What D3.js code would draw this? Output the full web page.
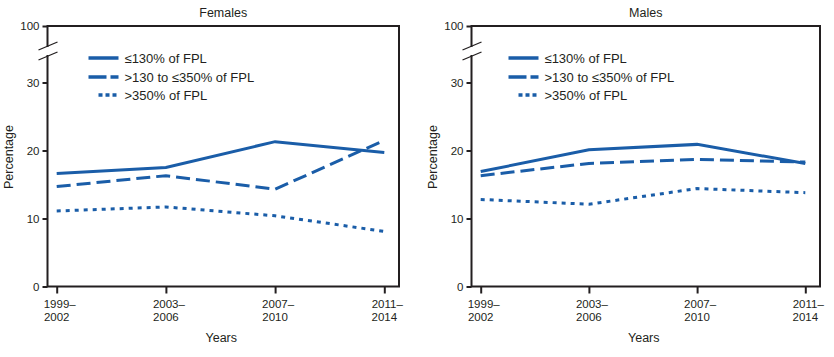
<!DOCTYPE html>
<html><head><meta charset="utf-8">
<script src="https://cdn.jsdelivr.net/npm/d3@7"></script>
<style>
body{margin:0;background:#fff;}
text{font-family:"Liberation Sans Narrow","Arial Narrow","Liberation Sans",Arial,sans-serif;fill:#231f20;}
</style></head>
<body><svg id="c" width="834" height="357"></svg>
<script>
const periods = ["1999–2002","2003–2006","2007–2010","2011–2014"];
const yTicks = [0,10,20,30,100];
const seriesNames = ["≤130% of FPL", ">130 to ≤350% of FPL", ">350% of FPL"];
const femalesLow = [16.6, 17.5, 21.3, 19.7];
const femalesMid = [14.7, 16.3, 14.3, 21.5];
const femalesHigh = [11.1, 11.7, 10.4, 8.1];
const malesLow = [16.9, 20.1, 20.9, 18.1];
const malesMid = [16.3, 18.1, 18.7, 18.3];
const malesHigh = [12.8, 12.1, 14.4, 13.8];
const panels = [
  {title:"Females", series:[femalesLow, femalesMid, femalesHigh]},
  {title:"Males", series:[malesLow, malesMid, malesHigh]}
];
const dashes = [null, "14,6", "4,5"];
const legendDashes = [null, "18,4", "4,3"];
const blue = "#1a5da8";

const svg = d3.select("#c");
const plotTop = 26, plotBottom = 286.5;
const y = d3.scaleLinear().domain([0,30,100]).range([plotBottom, 82.5, plotTop]);
const frames = [{l:47.5, r:399, lg:41}, {l:471.5, r:820, lg:37}];

panels.forEach((p, i) => {
  const f = frames[i];
  const g = svg.append("g");
  const x = d3.scalePoint().domain(periods).range([f.l + 9.2, f.r - 14.7]);
  g.append("text").attr("x", (f.l + f.r)/2).attr("y", 17).attr("text-anchor","middle")
    .style("font-size","12.5px").text(p.title);
  g.append("rect").attr("x", f.l).attr("y", plotTop).attr("width", f.r - f.l).attr("height", plotBottom - plotTop)
    .attr("fill","none").attr("stroke","#231f20").attr("stroke-width",2);
  const ya = d3.axisLeft(y).tickValues(yTicks).tickSize(5).tickPadding(3).tickFormat(d3.format("d"));
  const yg = g.append("g").attr("transform",`translate(${f.l},0)`).call(ya);
  yg.select(".domain").remove();
  yg.selectAll(".tick line").attr("stroke","#231f20").attr("stroke-width",2);
  yg.selectAll(".tick text").style("font-size","11.5px").attr("fill","#231f20");
  g.append("rect").attr("x", f.l - 2).attr("y", 47).attr("width", 4).attr("height", 8).attr("fill","#fff");
  g.append("line").attr("x1", f.l - 9).attr("y1", 50).attr("x2", f.l + 10).attr("y2", 42)
    .attr("stroke","#231f20").attr("stroke-width",1.3);
  g.append("line").attr("x1", f.l - 9).attr("y1", 60).attr("x2", f.l + 10).attr("y2", 52)
    .attr("stroke","#231f20").attr("stroke-width",1.3);
  const xa = d3.axisBottom(x).tickSize(7).tickFormat("");
  const xg = g.append("g").attr("transform",`translate(0,${plotBottom})`).call(xa);
  xg.select(".domain").remove();
  xg.selectAll(".tick line").attr("stroke","#231f20").attr("stroke-width",2);
  periods.forEach(pr => {
    const parts = pr.split("–");
    const t = g.append("text").attr("x", x(pr)).attr("y", 308).attr("text-anchor","middle").style("font-size","11.5px");
    t.append("tspan").attr("x", x(pr)).attr("dx", 3).text(parts[0] + "–");
    t.append("tspan").attr("x", x(pr)).attr("dy", 13).text(parts[1]);
  });
  g.append("text").attr("x", (f.l + f.r)/2 - 2).attr("y", 342).attr("text-anchor","middle")
    .style("font-size","12.5px").text("Years");
  g.append("text").attr("transform", `translate(${f.l - 35},157) rotate(-90)`).attr("text-anchor","middle")
    .style("font-size","12.5px").text("Percentage");
  const line = d3.line().x((d, j) => x(periods[j])).y(d => y(d));
  p.series.forEach((s, k) => {
    g.append("path").datum(s).attr("d", line).attr("fill","none").attr("stroke", blue)
      .attr("stroke-width", 3).attr("stroke-dasharray", dashes[k]);
  });
  const ly = [58, 77, 95];
  seriesNames.forEach((n, k) => {
    const x1 = k === 2 ? f.l + f.lg + 10 : f.l + f.lg;
    g.append("line").attr("x1", x1).attr("x2", f.l + f.lg + 30).attr("y1", ly[k]).attr("y2", ly[k])
      .attr("stroke", blue).attr("stroke-width", 3.5).attr("stroke-dasharray", legendDashes[k]);
    g.append("text").attr("x", f.l + f.lg + 36).attr("y", ly[k] + 4.5).style("font-size","13px").text(n);
  });
});
</script></body></html>
